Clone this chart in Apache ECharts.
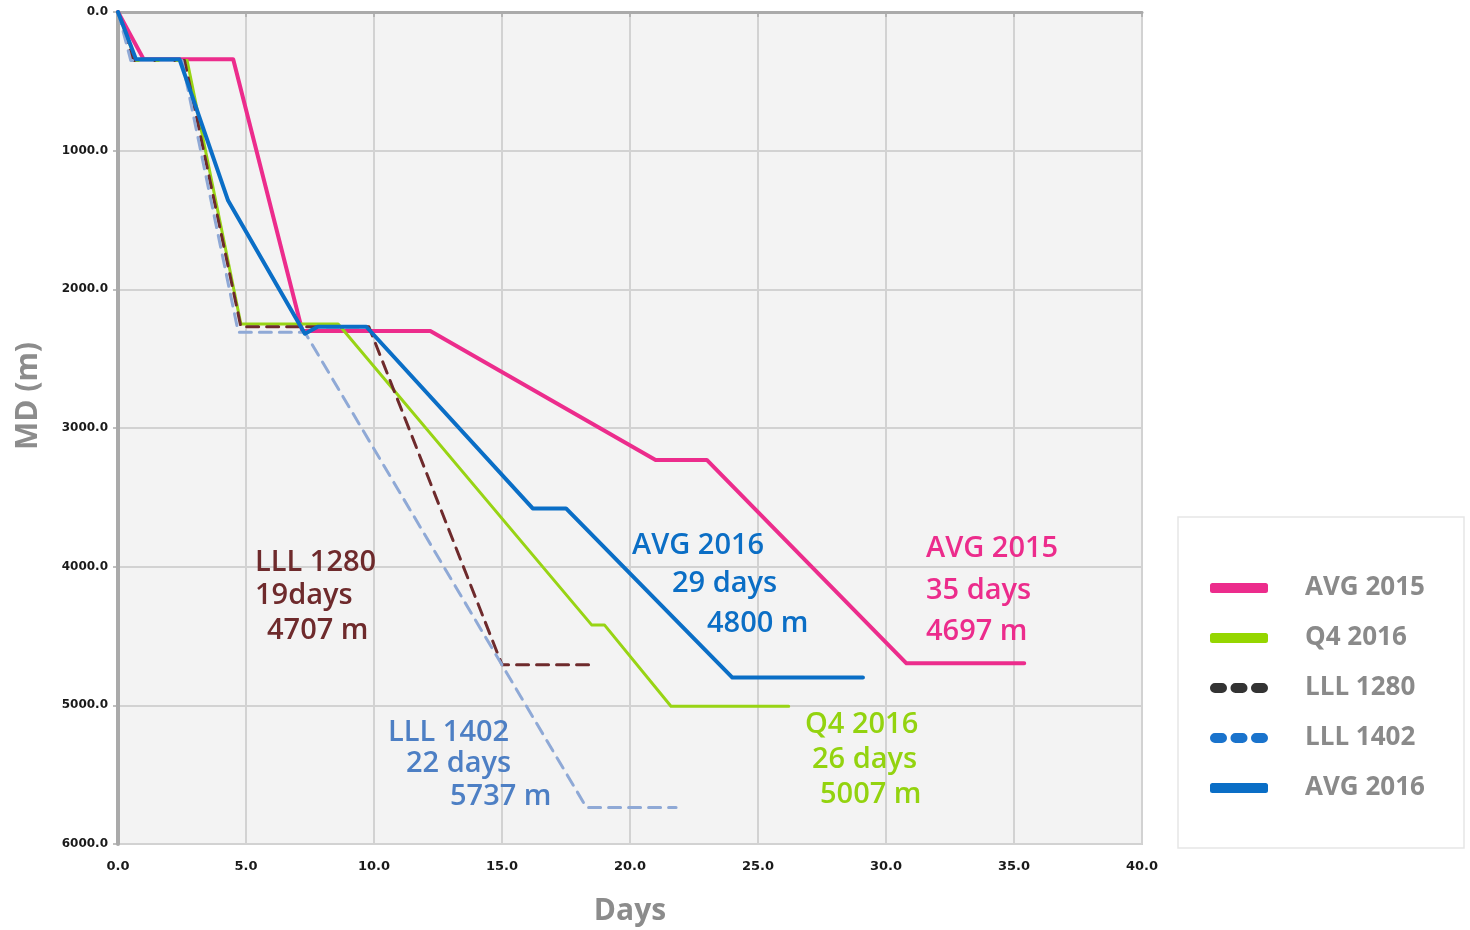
<!DOCTYPE html>
<html>
<head>
<meta charset="utf-8">
<script src="https://cdn.jsdelivr.net/npm/echarts@6/dist/echarts.min.js"></script>
<style>
  html, body { margin: 0; padding: 0; background: #fff; }
  #chart { width: 1470px; height: 930px; }
</style>
</head>
<body>
<div id="chart"></div>
<script>
// [days, MD (m)]
const avg2015 = [[0, 0], [1.0, 340], [4.5, 340], [7.2, 2300], [12.2, 2300], [21.0, 3230], [23.0, 3230], [30.8, 4697], [35.4, 4697]]
const q42016 = [[0, 0], [0.7, 350], [2.7, 350], [4.8, 2250], [8.6, 2250], [18.5, 4420], [19.0, 4420], [21.6, 5007], [26.2, 5007]]
const lll1280 = [[0, 0], [0.6, 350], [2.6, 350], [4.8, 2270], [9.8, 2270], [15.0, 4707], [18.5, 4707]]
const lll1402 = [[0, 0], [0.5, 350], [2.5, 350], [4.7, 2310], [7.3, 2310], [18.3, 5737], [21.8, 5737]]
const avg2016 = [[0, 0], [0.7, 340], [2.4, 340], [4.3, 1360], [7.3, 2320], [7.8, 2270], [9.7, 2270], [16.2, 3580], [17.5, 3580], [24.0, 4800], [29.1, 4800]]

const seriesNames = ['AVG 2015', 'Q4 2016', 'LLL 1280', 'LLL 1402', 'AVG 2016']
const xTicks = { min: 0, max: 40, step: 5 }
const yTicks = { min: 0, max: 6000, step: 1000 }

// annotation lines: [text, x, y]
const notes = [
  { color: '#6E2A2C', lines: [['LLL 1280', 255, 563], ['19days', 255, 596], ['4707 m', 267, 631]] },
  { color: '#4D7FC4', lines: [['LLL 1402', 388, 733], ['22 days', 406, 764], ['5737 m', 450, 797]] },
  { color: '#0B6EC5', lines: [['AVG 2016', 632, 546], ['29 days', 672, 584], ['4800 m', 707, 624]] },
  { color: '#EC2C8C', lines: [['AVG 2015', 926, 549], ['35 days', 926, 591], ['4697 m', 926, 632]] },
  { color: '#93D30F', lines: [['Q4 2016', 805, 725], ['26 days', 812, 760], ['5007 m', 820, 795]] }
]

const dotsIcon = 'path://M5,0H12A5,5 0 0 1 12,10H5A5,5 0 0 1 5,0Z M25.5,0H32.5A5,5 0 0 1 32.5,10H25.5A5,5 0 0 1 25.5,0Z M46,0H53A5,5 0 0 1 53,10H46A5,5 0 0 1 46,0Z'

const chart = echarts.init(document.getElementById('chart'))

function line(name, data, color, width, dashed) {
  return {
    name,
    type: 'line',
    data,
    showSymbol: false,
    symbol: 'none',
    itemStyle: { color },
    lineStyle: { color, width, type: dashed ? [12, 8] : 'solid', cap: 'round', join: 'round' },
    emphasis: { disabled: true }
  }
}

const graphics = [
  {
    type: 'rect',
    shape: { x: 1178, y: 517, width: 286, height: 331 },
    style: { fill: '#fff', stroke: '#e6e6e6', lineWidth: 1.5 },
    z: 0
  }
]
notes.forEach((n) => {
  n.lines.forEach(([t, x, y]) => {
    graphics.push({
      type: 'text',
      x, y,
      z: 10,
      style: {
        text: t,
        fill: n.color,
        font: '600 29px "Open Sans", sans-serif',
        align: 'left',
        verticalAlign: 'middle'
      }
    })
  })
})

chart.setOption({
  backgroundColor: '#fff',
  animation: false,
  grid: {
    left: 118, top: 12, right: 328, bottom: 86,
    outerBoundsMode: 'none',
    containLabel: false,
    show: true, backgroundColor: '#f3f3f3', borderColor: '#cfcfcf', borderWidth: 2
  },
  graphic: graphics,
  legend: {
    left: 1210, top: 575,
    padding: 0,
    orient: 'vertical',
    itemWidth: 58, itemHeight: 10,
    itemGap: 24,
    textStyle: {
      color: '#8a8a8a', fontSize: 26, fontWeight: 'bold',
      fontFamily: '"Open Sans", sans-serif', lineHeight: 24,
      padding: [0, 0, 0, 32]
    },
    data: [
      { name: seriesNames[0], icon: 'roundRect', itemStyle: { color: '#EC2C8C' } },
      { name: seriesNames[1], icon: 'roundRect', itemStyle: { color: '#95D600' } },
      { name: seriesNames[2], icon: dotsIcon, itemStyle: { color: '#333333' } },
      { name: seriesNames[3], icon: dotsIcon, itemStyle: { color: '#1A73CC' } },
      { name: seriesNames[4], icon: 'roundRect', itemStyle: { color: '#0A6EC6' } }
    ]
  },
  xAxis: {
    type: 'value',
    min: xTicks.min, max: xTicks.max, interval: xTicks.step,
    name: 'Days', nameLocation: 'middle', nameGap: 52,
    nameTextStyle: { color: '#8c8c8c', fontSize: 30, fontWeight: 'bold', fontFamily: '"Open Sans", sans-serif' },
    axisLine: { show: true, lineStyle: { color: '#aaaaaa', width: 3 } },
    axisTick: { show: true, length: 5, lineStyle: { color: '#aaaaaa', width: 1.5 } },
    axisLabel: {
      margin: 16, color: '#1a1a1a', fontSize: 13, fontWeight: 'bold',
      fontFamily: '"DejaVu Sans", sans-serif',
      formatter: (v) => v.toFixed(1)
    },
    splitLine: { show: true, lineStyle: { color: '#d2d2d2', width: 2 } }
  },
  yAxis: {
    type: 'value',
    inverse: true,
    min: yTicks.min, max: yTicks.max, interval: yTicks.step,
    name: 'MD (m)', nameLocation: 'middle', nameGap: 75,
    nameTextStyle: {
      color: '#8c8c8c', fontSize: 30, fontWeight: 'bold',
      fontFamily: '"Open Sans", sans-serif', padding: [0, 0, 0, 64]
    },
    axisLine: { show: true, lineStyle: { color: '#aaaaaa', width: 4 } },
    axisTick: { show: true, length: 5, lineStyle: { color: '#aaaaaa', width: 1.5 } },
    axisLabel: {
      margin: 10, color: '#1a1a1a', fontSize: 12, fontWeight: 'bold',
      fontFamily: '"DejaVu Sans", sans-serif',
      formatter: (v) => v.toFixed(1)
    },
    splitLine: { show: true, lineStyle: { color: '#d2d2d2', width: 2 } }
  },
  series: [
    line(seriesNames[0], avg2015, '#EC2C8C', 4, false),
    line(seriesNames[1], q42016, '#98D414', 3, false),
    line(seriesNames[2], lll1280, '#6E2A2C', 3, true),
    line(seriesNames[3], lll1402, '#8FA9D6', 3, true),
    line(seriesNames[4], avg2016, '#0A6EC6', 4, false)
  ]
})

window.addEventListener('resize', () => chart.resize())
</script>
</body>
</html>
